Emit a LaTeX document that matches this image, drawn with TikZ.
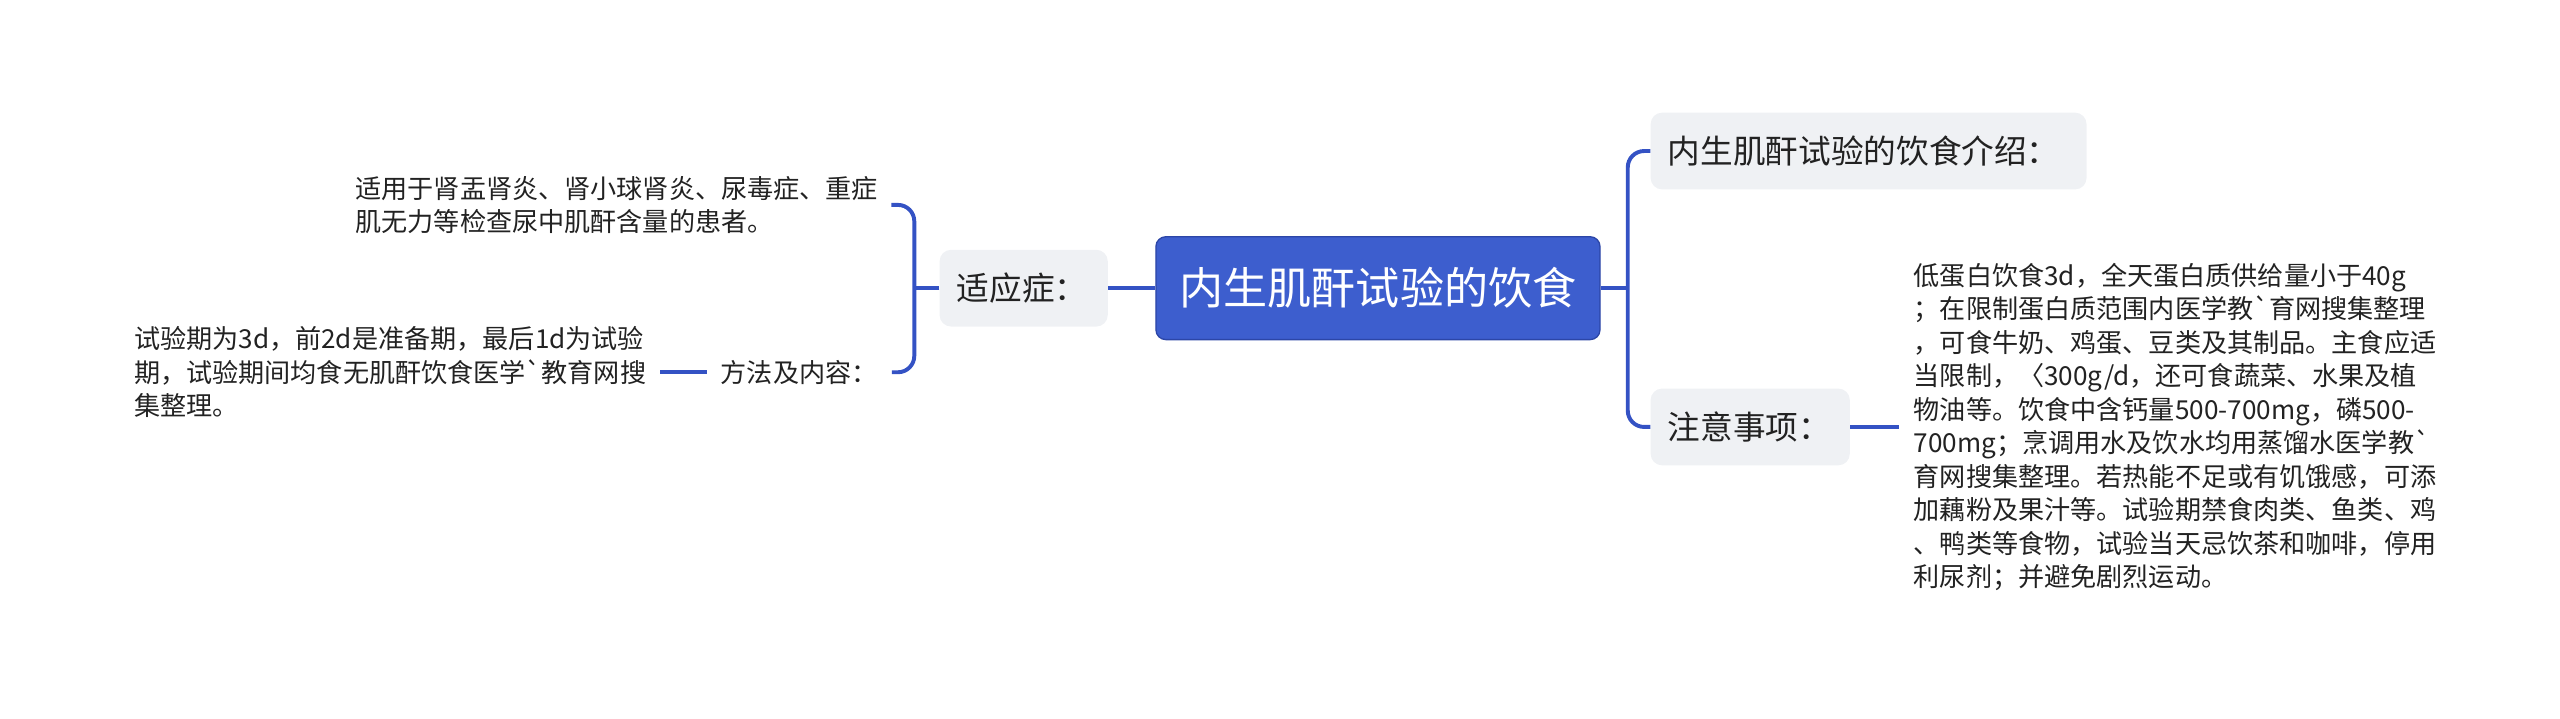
\documentclass[tikz,border=0pt]{standalone}
\usepackage{fontspec}
\usepackage{tikz}
\usetikzlibrary{positioning}
\newfontfamily\cnfont{Noto Sans CJK SC}
\definecolor{mapblue}{RGB}{61,94,206}
\definecolor{linkblue}{RGB}{52,82,196}
\definecolor{topicgray}{RGB}{239,241,244}
\definecolor{inkgray}{RGB}{34,34,34}

\tikzset{
  link/.style={draw=linkblue, line width=2.4pt, rounded corners=10pt},
  root/.style={rectangle, rounded corners=6pt, fill=mapblue, draw=linkblue!85!black, line width=0.8pt,
    text=white, minimum width=272pt, minimum height=63pt, font=\cnfont\fontsize{27}{32}\selectfont},
  topic/.style={rectangle, rounded corners=7pt, fill=topicgray, text=inkgray, align=left,
    inner xsep=10.5pt, minimum height=47pt, font=\cnfont\fontsize{20}{24}\selectfont},
  leaf/.style={align=left, text=inkgray, inner xsep=8pt, font=\cnfont\fontsize{16}{20.5}\selectfont},
}

\begin{document}
\begin{tikzpicture}[x=1pt, y=-1pt]
    \useasboundingbox (0,0) rectangle (1568,440);

    \node[root] at (844,176.5) (diet) {内生肌酐试验的饮食};

    % left side
    \node[topic, text width=82pt] at (627,176.5) (indic) {适应症：};
    \coordinate (lb) at (560,176.5);
    \node[leaf, anchor=east] at (546,125.5) (indictext)
        {适用于肾盂肾炎、肾小球肾炎、尿毒症、重症\\肌无力等检查尿中肌酐含量的患者。};
    \node[leaf, minimum width=113pt] at (489.5,228) (method) {方法及内容：};
    \node[leaf, anchor=east] at (404,228) (methodtext)
        {试验期为3d，前2d是准备期，最后1d为试验\\期，试验期间均食无肌酐饮食医学`教育网搜\\集整理。};

    % right side
    \coordinate (rb) at (997,176.5);
    \node[topic, text width=246pt] at (1144.5,92.5) (intro) {内生肌酐试验的饮食介绍：};
    \node[topic, text width=101pt] at (1072,261.5) (note) {注意事项：};
    \node[leaf, anchor=west, inner xsep=9pt] at (1163,261.5) (notetext)
        {低蛋白饮食3d，全天蛋白质供给量小于40g\\
         ；在限制蛋白质范围内医学教`育网搜集整理\\
         ，可食牛奶、鸡蛋、豆类及其制品。主食应适\\
         当限制，〈300g/d，还可食蔬菜、水果及植\\
         物油等。饮食中含钙量500-700mg，磷500-\\
         700mg；烹调用水及饮水均用蒸馏水医学教`\\
         育网搜集整理。若热能不足或有饥饿感，可添\\
         加藕粉及果汁等。试验期禁食肉类、鱼类、鸡\\
         、鸭类等食物，试验当天忌饮茶和咖啡，停用\\
         利尿剂；并避免剧烈运动。};

    \draw[link] (diet.west) -- (indic.east);
    \draw[link] (indic.west) -- (lb);
    \draw[link] (indictext.east) -- (indictext.east -| lb) -- (method.east -| lb) -- (method.east);
    \draw[link] (method.west) -- (methodtext.east);

    \draw[link] (diet.east) -- (rb);
    \draw[link] (intro.west) -- (intro.west -| rb) -- (note.west -| rb) -- (note.west);
    \draw[link] (note.east) -- (notetext.west);
\end{tikzpicture}
\end{document}
